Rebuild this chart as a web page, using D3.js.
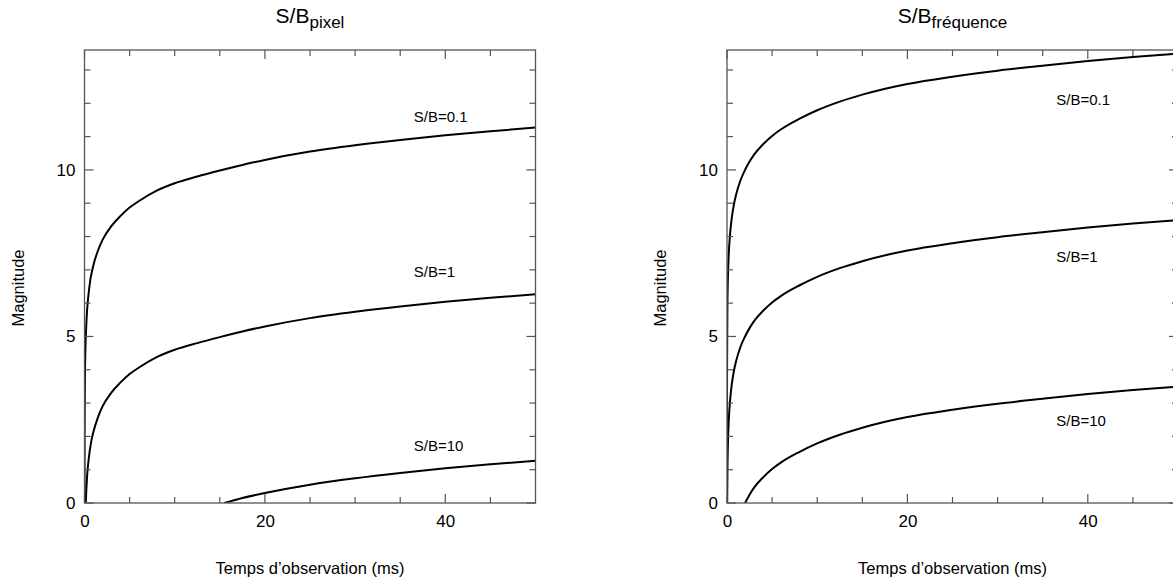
<!DOCTYPE html>
<html>
<head>
<meta charset="utf-8">
<script src="https://cdn.jsdelivr.net/npm/d3@7"></script>
<style>
  html, body { margin: 0; padding: 0; background: #fff; }
  svg { display: block; font-family: "Liberation Sans", Arial, Helvetica, sans-serif; }
</style>
</head>
<body>
<svg id="chart" width="1173" height="586"></svg>
<script>
// ---------- data ----------
const seriesLabels = ["S/B=0.1", "S/B=1", "S/B=10"];
const xMajorTicks = [0, 20, 40];
const xMinorTicks = [5, 10, 15, 25, 30, 35, 45];
const yMajorTicks = [0, 5, 10];
const yMinorTicks = [1, 2, 3, 4, 6, 7, 8, 9, 11, 12, 13];
const xDomain = [0, 50];
const yDomain = [0, 13.6];

// Panel 1 : S/B pixel
const tPix01 = [0.0015, 0.01, 0.05, 0.1, 0.2, 0.5, 1, 1.5, 2, 3, 4, 5, 6, 8, 10, 12.5, 15, 17.5, 20, 25, 30, 35, 40, 45, 50];
const mPix01 = [0, 2.1, 3.85, 4.6, 5.35, 6.4, 7.15, 7.58, 7.9, 8.32, 8.62, 8.87, 9.06, 9.38, 9.6, 9.8, 9.98, 10.15, 10.3, 10.55, 10.74, 10.9, 11.04, 11.16, 11.27];
const tPix1 = [0.14, 0.2, 0.3, 0.5, 0.75, 1, 1.5, 2, 3, 4, 5, 6, 8, 10, 12.5, 15, 17.5, 20, 25, 30, 35, 40, 45, 50];
const mPix1 = [0, 0.38, 0.85, 1.4, 1.85, 2.15, 2.58, 2.9, 3.32, 3.62, 3.87, 4.06, 4.38, 4.6, 4.8, 4.98, 5.15, 5.3, 5.55, 5.74, 5.9, 6.04, 6.16, 6.27];
const tPix10 = [15.5, 17.5, 20, 25, 30, 35, 40, 45, 50];
const mPix10 = [0, 0.15, 0.3, 0.55, 0.74, 0.9, 1.04, 1.16, 1.27];

// Panel 2 : S/B fréquence
const tFreq01 = [0.0002, 0.001, 0.005, 0.01, 0.05, 0.1, 0.2, 0.35, 0.5, 0.75, 1, 1.5, 2, 2.5, 3, 4, 5, 6, 8, 10, 12.5, 15, 20, 25, 30, 35, 40, 45, 50];
const mFreq01 = [0, 1.75, 3.5, 4.25, 6.0, 6.75, 7.5, 8.1, 8.5, 8.94, 9.25, 9.69, 10.0, 10.25, 10.46, 10.77, 11.02, 11.22, 11.53, 11.79, 12.05, 12.26, 12.58, 12.8, 12.98, 13.13, 13.27, 13.39, 13.49];
const tFreq1 = [0.02, 0.05, 0.1, 0.2, 0.35, 0.5, 0.75, 1, 1.5, 2, 2.5, 3, 4, 5, 6, 8, 10, 12.5, 15, 20, 25, 30, 35, 40, 45, 50];
const mFreq1 = [0, 1.0, 1.75, 2.5, 3.1, 3.5, 3.94, 4.25, 4.69, 5.0, 5.25, 5.46, 5.77, 6.02, 6.22, 6.53, 6.79, 7.05, 7.26, 7.58, 7.8, 7.98, 8.13, 8.27, 8.39, 8.49];
const tFreq10 = [2, 2.5, 3, 4, 5, 6, 8, 10, 12.5, 15, 20, 25, 30, 35, 40, 45, 50];
const mFreq10 = [0, 0.25, 0.46, 0.77, 1.02, 1.22, 1.53, 1.79, 2.05, 2.26, 2.58, 2.8, 2.98, 3.13, 3.27, 3.39, 3.49];

// label anchor points (data units) for curve labels
const labelTPix = [36.5, 36.5, 36.5];
const labelMPix = [11.45, 6.8, 1.55];
const labelTFreq = [36.5, 36.5, 36.5];
const labelMFreq = [11.95, 7.25, 2.3];

// ---------- drawing ----------
const svg = d3.select("#chart");
const plotTop = 50, plotBottom = 503, pw = 451;
const panels = [
  { x0: 84.5, title: "S/B", sub: "pixel",
    series: [[tPix01, mPix01], [tPix1, mPix1], [tPix10, mPix10]],
    lt: labelTPix, lm: labelMPix },
  { x0: 727, title: "S/B", sub: "fréquence",
    series: [[tFreq01, mFreq01], [tFreq1, mFreq1], [tFreq10, mFreq10]],
    lt: labelTFreq, lm: labelMFreq }
];

const frameColor = "#555";

panels.forEach((p, pi) => {
  const x = d3.scaleLinear().domain(xDomain).range([p.x0, p.x0 + pw]);
  const y = d3.scaleLinear().domain(yDomain).range([plotBottom, plotTop]);
  const g = svg.append("g");

  const clipId = "clip" + pi;
  svg.append("clipPath").attr("id", clipId)
    .append("rect").attr("x", p.x0).attr("y", plotTop).attr("width", pw).attr("height", plotBottom - plotTop);

  // curves
  const line = d3.line().x(d => x(d[0])).y(d => y(d[1])).curve(d3.curveMonotoneX);
  p.series.forEach(([ts, ms]) => {
    const pts = ts.map((t, i) => [t, ms[i]]);
    g.append("path").datum(pts)
      .attr("d", line)
      .attr("fill", "none")
      .attr("stroke", "#000")
      .attr("stroke-width", 2)
      .attr("clip-path", `url(#${clipId})`);
  });

  // frame
  g.append("rect").attr("x", p.x0).attr("y", plotTop).attr("width", pw).attr("height", plotBottom - plotTop)
    .attr("fill", "none").attr("stroke", frameColor).attr("stroke-width", 1.3);

  const tickG = g.append("g").attr("stroke", frameColor).attr("stroke-width", 1.2);
  const majLen = 9, minLen = 6;
  xMajorTicks.concat(xMinorTicks).forEach(v => {
    const len = xMajorTicks.includes(v) ? majLen : minLen;
    tickG.append("line").attr("x1", x(v)).attr("x2", x(v)).attr("y1", plotBottom).attr("y2", plotBottom - len);
    tickG.append("line").attr("x1", x(v)).attr("x2", x(v)).attr("y1", plotTop).attr("y2", plotTop + len);
  });
  yMajorTicks.concat(yMinorTicks).forEach(v => {
    const len = yMajorTicks.includes(v) ? majLen : minLen;
    tickG.append("line").attr("x1", p.x0).attr("x2", p.x0 + len).attr("y1", y(v)).attr("y2", y(v));
    tickG.append("line").attr("x1", p.x0 + pw).attr("x2", p.x0 + pw - len).attr("y1", y(v)).attr("y2", y(v));
  });

  // tick labels via d3 axes (lines hidden)
  const xAxis = d3.axisBottom(x).tickValues(xMajorTicks).tickSize(0).tickPadding(0);
  const xa = g.append("g").attr("transform", `translate(0,${plotBottom + 12})`).call(xAxis);
  xa.select(".domain").remove();
  xa.selectAll("text").attr("font-size", 17).attr("fill", "#000")
    .attr("font-family", "Liberation Sans, Arial, sans-serif").attr("dy", "0.71em");

  const yAxis = d3.axisLeft(y).tickValues(yMajorTicks).tickSize(0).tickPadding(0);
  const ya = g.append("g").attr("transform", `translate(${p.x0 - 9},0)`).call(yAxis);
  ya.select(".domain").remove();
  ya.selectAll("text").attr("font-size", 17).attr("fill", "#000")
    .attr("font-family", "Liberation Sans, Arial, sans-serif");

  // curve labels
  seriesLabels.forEach((lab, i) => {
    g.append("text").attr("x", x(p.lt[i])).attr("y", y(p.lm[i]))
      .attr("font-size", 15).attr("fill", "#000").text(lab);
  });

  // title
  const cx = p.x0 + pw / 2;
  const title = g.append("text").attr("x", cx).attr("y", 23)
    .attr("text-anchor", "middle").attr("font-size", 21).attr("fill", "#000");
  title.append("tspan").text(p.title);
  title.append("tspan").attr("font-size", 17).attr("dy", 5).text(p.sub);

  // axis titles
  g.append("text").attr("x", cx).attr("y", 574).attr("text-anchor", "middle")
    .attr("font-size", 16.5).attr("fill", "#000").text("Temps d’observation (ms)");
  g.append("text").attr("transform", `translate(${p.x0 - 61},288) rotate(-90)`)
    .attr("text-anchor", "middle").attr("font-size", 16.5).attr("fill", "#000").text("Magnitude");
});
</script>
</body>
</html>
